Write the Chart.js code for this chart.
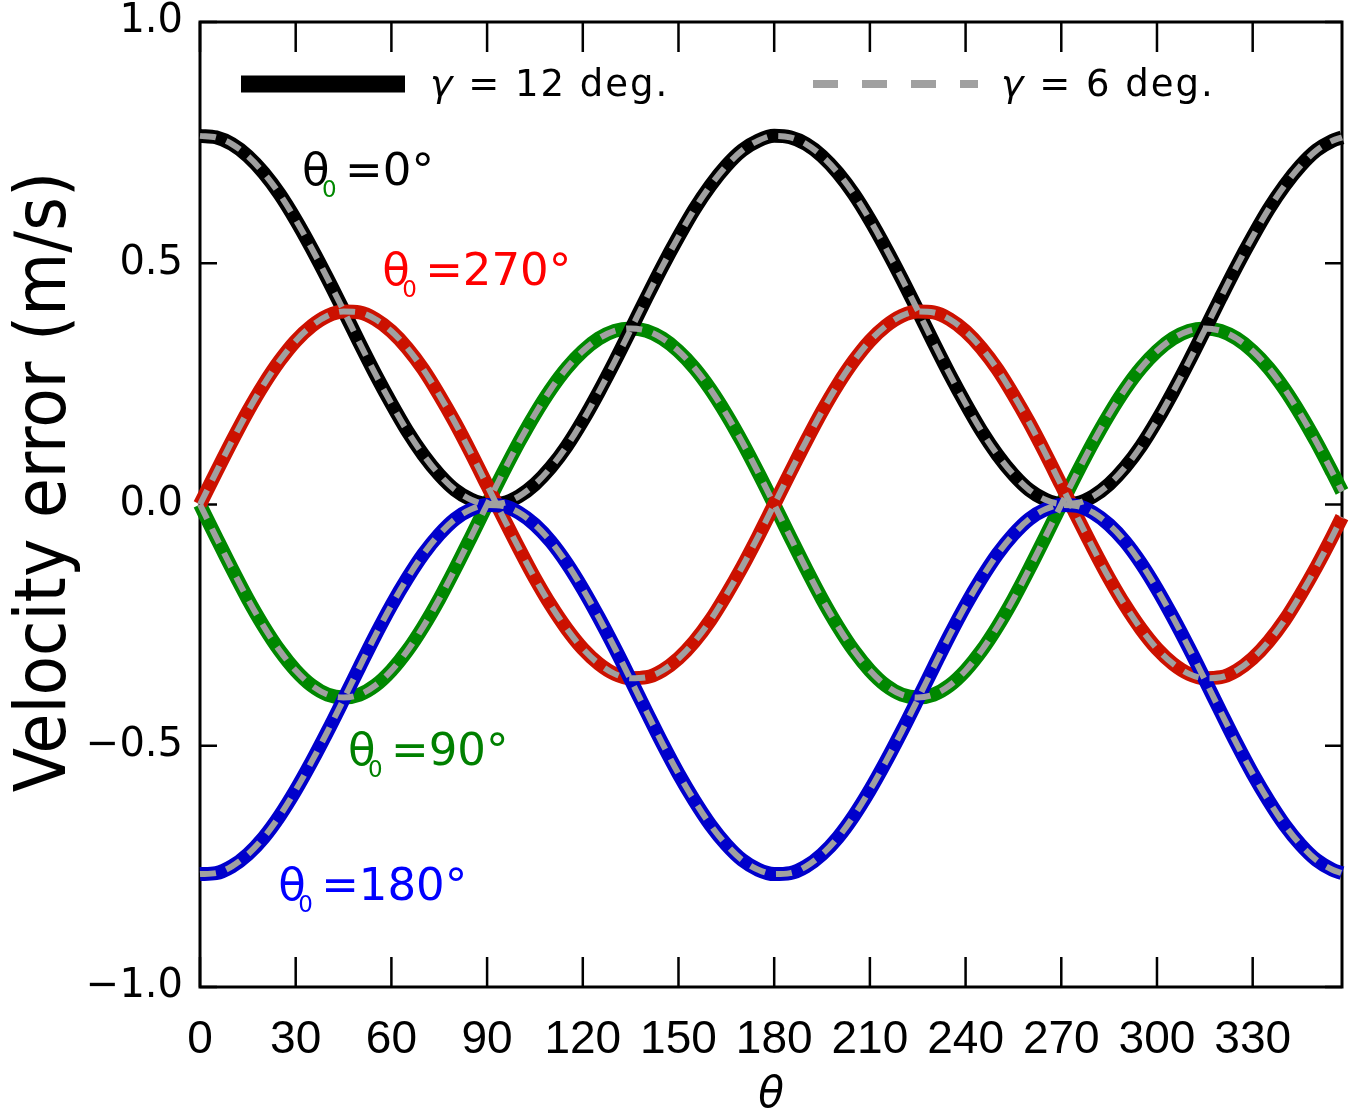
<!DOCTYPE html>
<html>
<head>
<meta charset="utf-8">
<script src="https://cdn.jsdelivr.net/npm/chart.js@4.4.0/dist/chart.umd.min.js"></script>
<style>
    html, body { margin: 0; padding: 0; background: #fff; }
</style>
</head>
<body>
<canvas id="velocity-chart" width="1355" height="1114"></canvas>
<script>
const angles = [0, 5, 10, 15, 20, 25, 30, 35, 40, 45, 50, 55, 60, 65, 70, 75, 80, 85,
    90, 95, 100, 105, 110, 115, 120, 125, 130, 135, 140, 145, 150, 155, 160, 165, 170, 175,
    180, 185, 190, 195, 200, 205, 210, 215, 220, 225, 230, 235, 240, 245, 250, 255, 260, 265,
    270, 275, 280, 285, 290, 295, 300, 305, 310, 315, 320, 325, 330, 335, 340, 345, 350, 355, 358]

// velocity error (m/s), gamma = 12 deg
const err_t0_0 = [0.764, 0.761, 0.747, 0.722, 0.687, 0.643, 0.590, 0.531, 0.468, 0.402, 0.335, 0.270, 0.209, 0.152, 0.103, 0.062, 0.030, 0.010,
    0.001, 0.003, 0.017, 0.042, 0.077, 0.121, 0.174, 0.233, 0.296, 0.362, 0.429, 0.494, 0.555, 0.612, 0.661, 0.702, 0.734, 0.754,
    0.764, 0.761, 0.747, 0.722, 0.687, 0.643, 0.590, 0.531, 0.468, 0.402, 0.335, 0.270, 0.209, 0.152, 0.103, 0.062, 0.030, 0.010,
    0.001, 0.003, 0.017, 0.042, 0.077, 0.121, 0.174, 0.233, 0.296, 0.362, 0.429, 0.494, 0.555, 0.612, 0.661, 0.702, 0.734, 0.754, 0.761]
const err_t0_90 = [0, -0.067, -0.133, -0.196, -0.253, -0.303, -0.344, -0.375, -0.394, -0.400, -0.394, -0.375, -0.344, -0.303, -0.253, -0.196, -0.133, -0.067,
    0, 0.066, 0.129, 0.187, 0.239, 0.283, 0.318, 0.344, 0.360, 0.365, 0.360, 0.344, 0.318, 0.283, 0.239, 0.187, 0.129, 0.066,
    0, -0.067, -0.133, -0.196, -0.253, -0.303, -0.344, -0.375, -0.394, -0.400, -0.394, -0.375, -0.344, -0.303, -0.253, -0.196, -0.133, -0.067,
    0, 0.066, 0.129, 0.187, 0.239, 0.283, 0.318, 0.344, 0.360, 0.365, 0.360, 0.344, 0.318, 0.283, 0.239, 0.187, 0.129, 0.066, 0.027]
const err_t0_180 = [-0.766, -0.764, -0.750, -0.725, -0.690, -0.645, -0.592, -0.533, -0.470, -0.404, -0.337, -0.271, -0.209, -0.153, -0.103, -0.062, -0.030, -0.010,
    -0.001, -0.003, -0.017, -0.042, -0.077, -0.122, -0.175, -0.234, -0.297, -0.363, -0.430, -0.496, -0.558, -0.614, -0.664, -0.705, -0.737, -0.757,
    -0.766, -0.764, -0.750, -0.725, -0.690, -0.645, -0.592, -0.533, -0.470, -0.404, -0.337, -0.271, -0.209, -0.153, -0.103, -0.062, -0.030, -0.010,
    -0.001, -0.003, -0.017, -0.042, -0.077, -0.122, -0.175, -0.234, -0.297, -0.363, -0.430, -0.496, -0.558, -0.614, -0.664, -0.705, -0.737, -0.757, -0.764]
const err_t0_270 = [0, 0.066, 0.131, 0.193, 0.249, 0.298, 0.339, 0.370, 0.391, 0.400, 0.398, 0.384, 0.359, 0.324, 0.280, 0.227, 0.169, 0.106,
    0.040, -0.026, -0.091, -0.153, -0.209, -0.258, -0.299, -0.330, -0.351, -0.360, -0.358, -0.344, -0.319, -0.284, -0.240, -0.187, -0.129, -0.066,
    0, 0.066, 0.131, 0.193, 0.249, 0.298, 0.339, 0.370, 0.391, 0.400, 0.398, 0.384, 0.359, 0.324, 0.280, 0.227, 0.169, 0.106,
    0.040, -0.026, -0.091, -0.153, -0.209, -0.258, -0.299, -0.330, -0.351, -0.360, -0.358, -0.344, -0.319, -0.284, -0.240, -0.187, -0.129, -0.066, -0.026]

// gamma = 6 deg curves lie on top of the gamma = 12 ones
const err6_t0_0 = err_t0_0.slice()
const err6_t0_90 = err_t0_90.slice()
const err6_t0_180 = err_t0_180.slice()
const err6_t0_270 = err_t0_270.slice()

const xTicks = { min: 0, max: 358, step: 30 }
const yTicks = { min: -1, max: 1, step: 0.5 }

const legendItems = [' = 12 deg.', ' = 6 deg.']
const yTitle = 'Velocity error (m/s)'

// curve labels, anchored in data units (theta, m/s)
const curveLabels = [
    { sub: '0', text: '=0\u00b0', color: '#000000', subColor: '#008800', x: 32.0, y: 0.662 },
    { sub: '0', text: '=270\u00b0', color: '#ff0000', subColor: '#ff0000', x: 57.1, y: 0.455 },
    { sub: '0', text: '=90\u00b0', color: '#008000', subColor: '#008000', x: 46.4, y: -0.540 },
    { sub: '0', text: '=180\u00b0', color: '#0000ff', subColor: '#0000ff', x: 24.5, y: -0.820 }
]

function toPoints(values) {
    return values.map((v, i) => ({ x: angles[i], y: v }))
}

function solidSet(values, color, order) {
    return {
        data: toPoints(values),
        borderColor: color,
        borderWidth: 14,
        pointRadius: 0,
        cubicInterpolationMode: 'monotone',
        clip: 10,
        order: order
    }
}

function dashedSet(values) {
    return {
        data: toPoints(values),
        borderColor: '#a0a0a0',
        borderWidth: 6,
        borderDash: [16, 11],
        pointRadius: 0,
        cubicInterpolationMode: 'monotone',
        clip: 10,
        order: 0
    }
}

const framePlugin = {
    id: 'frame',
    beforeDatasetsDraw(chart) {
        const { ctx, chartArea: a, scales } = chart
        ctx.save()
        ctx.strokeStyle = '#000'
        ctx.lineWidth = 3
        ctx.strokeRect(a.left, a.top, a.right - a.left, a.bottom - a.top)
        ctx.lineWidth = 2.5
        ctx.beginPath()
        scales.x.ticks.forEach(t => {
            const px = scales.x.getPixelForValue(t.value)
            ctx.moveTo(px, a.bottom); ctx.lineTo(px, a.bottom - 30)
            ctx.moveTo(px, a.top); ctx.lineTo(px, a.top + 30)
        })
        scales.y.ticks.forEach(t => {
            const py = scales.y.getPixelForValue(t.value)
            ctx.moveTo(a.left, py); ctx.lineTo(a.left + 17, py)
            ctx.moveTo(a.right, py); ctx.lineTo(a.right - 17, py)
        })
        ctx.stroke()

        // y title, rotated
        ctx.fillStyle = '#000'
        ctx.font = '72px "DejaVu Sans Condensed"'
        ctx.textAlign = 'center'
        ctx.textBaseline = 'middle'
        ctx.translate(46, 482)
        ctx.rotate(-Math.PI / 2)
        ctx.fillText(yTitle, 0, 0)
        ctx.restore()
    }
}

const legendPlugin = {
    id: 'inlineLegend',
    afterDatasetsDraw(chart) {
        const ctx = chart.ctx
        ctx.save()
        // gamma = 12: thick black bar
        ctx.strokeStyle = '#000'
        ctx.lineWidth = 17
        ctx.beginPath(); ctx.moveTo(241, 84); ctx.lineTo(405, 84); ctx.stroke()
        // gamma = 6: grey dashes
        ctx.strokeStyle = '#a0a0a0'
        ctx.lineWidth = 8
        ctx.setLineDash([25, 24])
        ctx.beginPath(); ctx.moveTo(813, 84); ctx.lineTo(978, 84); ctx.stroke()
        ctx.setLineDash([])
        ctx.fillStyle = '#000'
        ctx.textBaseline = 'alphabetic'
        ;[[430, legendItems[0]], [1001, legendItems[1]]].forEach(([x, txt]) => {
            ctx.font = 'italic 38px "DejaVu Sans"'
            ctx.letterSpacing = '0px'
            ctx.fillText('\u03b3', x, 96)
            const w = ctx.measureText('\u03b3').width
            ctx.font = '37px "DejaVu Sans"'
            ctx.letterSpacing = '2px'
            ctx.fillText(txt, x + w + 2, 96)
        })
        ctx.restore()
    }
}

const labelPlugin = {
    id: 'curveLabels',
    afterDatasetsDraw(chart) {
        const { ctx, scales } = chart
        ctx.save()
        ctx.textBaseline = 'alphabetic'
        curveLabels.forEach(l => {
            const px = scales.x.getPixelForValue(l.x)
            const py = scales.y.getPixelForValue(l.y)
            ctx.fillStyle = l.color
            ctx.font = '45px "DejaVu Sans"'
            ctx.fillText('\u03b8', px, py)
            ctx.fillText(l.text, px + 43, py)
            ctx.fillStyle = l.subColor
            ctx.font = '23px "DejaVu Sans"'
            ctx.fillText(l.sub, px + 20, py + 12)
        })
        ctx.restore()
    }
}

function renderVelocityChart() {
    const data = {
        datasets: [
            dashedSet(err6_t0_0),
            dashedSet(err6_t0_90),
            dashedSet(err6_t0_180),
            dashedSet(err6_t0_270),
            solidSet(err_t0_180, '#0000cc', 1),
            solidSet(err_t0_270, '#cc1100', 2),
            solidSet(err_t0_0, '#000000', 3),
            solidSet(err_t0_90, '#008800', 4)
        ]
    }

    const config = {
        type: 'line',
        data: data,
        options: {
            responsive: false,
            animation: false,
            devicePixelRatio: 1,
            layout: { padding: { top: 22, right: 13, left: 0, bottom: 0 } },
            plugins: {
                legend: { display: false },
                tooltip: { enabled: false }
            },
            scales: {
                x: {
                    type: 'linear',
                    min: xTicks.min,
                    max: xTicks.max,
                    afterFit: s => { s.height = 127; s.paddingLeft = 0; s.paddingRight = 0 },
                    grid: { display: false, drawTicks: false },
                    border: { display: false },
                    ticks: {
                        stepSize: xTicks.step,
                        includeBounds: false,
                        maxRotation: 0,
                        autoSkip: false,
                        padding: 26,
                        color: '#000',
                        font: { family: 'Liberation Sans', size: 46 }
                    },
                    title: {
                        display: true,
                        text: '\u03b8',
                        color: '#000',
                        padding: 0,
                        font: { family: 'DejaVu Sans', size: 42, style: 'italic', lineHeight: 0.85 }
                    }
                },
                y: {
                    min: yTicks.min,
                    max: yTicks.max,
                    afterFit: s => { s.width = 200; s.paddingTop = 0; s.paddingBottom = 0 },
                    grid: { display: false, drawTicks: false },
                    border: { display: false },
                    ticks: {
                        stepSize: yTicks.step,
                        padding: 17,
                        color: '#000',
                        font: { family: 'DejaVu Sans', size: 40 },
                        callback: v => v.toFixed(1).replace('-', '\u2212')
                    }
                }
            }
        },
        plugins: [framePlugin, legendPlugin, labelPlugin]
    }

    const myChart = new Chart(document.getElementById('velocity-chart'), config)
}

renderVelocityChart()
</script>
</body>
</html>
